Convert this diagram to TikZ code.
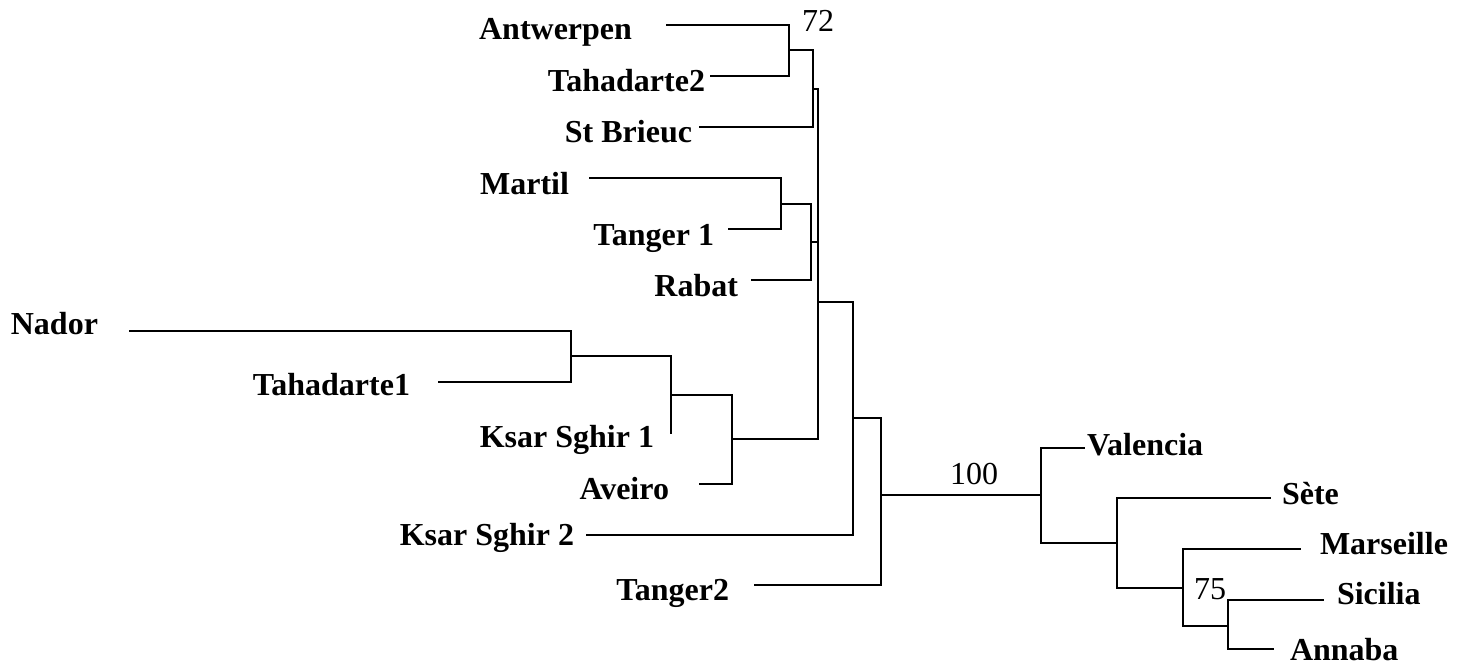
\documentclass[tikz,border=0pt]{standalone}
\usepackage{fontspec}
\setmainfont{Liberation Serif}
\begin{document}
\begin{tikzpicture}[x=0.5pt,y=-0.5pt,
  branch/.style={line width=1.15pt,line cap=rect},
  leafl/.style={anchor=base east,inner sep=0pt,outer sep=0pt,font=\fontsize{16}{19}\selectfont\bfseries},
  leafr/.style={anchor=base west,inner sep=0pt,outer sep=0pt,font=\fontsize{16}{19}\selectfont\bfseries},
  boot/.style={anchor=base west,inner sep=0pt,outer sep=0pt,font=\fontsize{16}{19}\selectfont}]
\useasboundingbox (0,0) rectangle (1467,667);
% left-side labels
\node[leafl] (antw) at (632,40) {Antwerpen};
\node[leafl] (taha2) at (705,92) {Tahadarte2};
\node[leafl] (stb) at (692,143) {St Brieuc};
\node[leafl] (mart) at (569,195) {Martil};
\node[leafl] (tang1) at (714,246) {Tanger 1};
\node[leafl] (rab) at (738,297) {Rabat};
\node[leafl] (nad) at (98,335) {Nador};
\node[leafl] (taha1) at (410,396) {Tahadarte1};
\node[leafl] (ks1) at (654,448) {Ksar Sghir 1};
\node[leafl] (ave) at (669,500) {Aveiro};
\node[leafl] (ks2) at (574,546) {Ksar Sghir 2};
\node[leafl] (tang2) at (729,601) {Tanger2};
% right-side labels
\node[leafr] (val) at (1087,456) {Valencia};
\node[leafr] (set) at (1282,505) {Sète};
\node[leafr] (mar) at (1320,555) {Marseille};
\node[leafr] (sic) at (1337,605) {Sicilia};
\node[leafr] (ann) at (1290,661) {Annaba};
% bootstrap values
\node[boot] (b72) at (802,32) {72};
\node[boot] (b100) at (950,485) {100};
\node[boot] (b75) at (1194,600) {75};
% leaf branch ends
\coordinate (antw-e) at (667,25);
\coordinate (taha2-e) at (711,76);
\coordinate (stb-e) at (700,127);
\coordinate (mart-e) at (590,178);
\coordinate (tang1-e) at (729,229);
\coordinate (rab-e) at (752,280);
\coordinate (nad-e) at (130,331);
\coordinate (taha1-e) at (439,382);
\coordinate (ks1-e) at (671,433);
\coordinate (ave-e) at (700,484);
\coordinate (ks2-e) at (587,535);
\coordinate (tang2-e) at (755,585);
\coordinate (val-e) at (1084,448);
\coordinate (set-e) at (1270,498);
\coordinate (mar-e) at (1300,549);
\coordinate (sic-e) at (1323,600);
\coordinate (ann-e) at (1273,649);
% internal nodes
\coordinate (A1) at (789,50);
\coordinate (A2) at (813,89);
\coordinate (C1) at (781,204);
\coordinate (C2) at (811,242);
\coordinate (N1) at (571,356);
\coordinate (N2) at (671,395);
\coordinate (N3) at (732,439);
\coordinate (B) at (818,302);
\coordinate (K) at (853,418);
\coordinate (R) at (881,495);
\coordinate (V) at (1041,495);
\coordinate (S1) at (1117,543);
\coordinate (M1) at (1183,588);
\coordinate (SA) at (1228,626);
% branches
\draw[branch] (antw-e) -| (A1);
\draw[branch] (taha2-e) -| (A1);
\draw[branch] (A1) -| (A2);
\draw[branch] (stb-e) -| (A2);
\draw[branch] (mart-e) -| (C1);
\draw[branch] (tang1-e) -| (C1);
\draw[branch] (C1) -| (C2);
\draw[branch] (rab-e) -| (C2);
\draw[branch] (nad-e) -| (N1);
\draw[branch] (taha1-e) -| (N1);
\draw[branch] (N1) -| (N2);
\draw[branch] (ks1-e) -| (N2);
\draw[branch] (N2) -| (N3);
\draw[branch] (ave-e) -| (N3);
\draw[branch] (A2) -| (B);
\draw[branch] (C2) -| (B);
\draw[branch] (N3) -| (B);
\draw[branch] (B) -| (K);
\draw[branch] (ks2-e) -| (K);
\draw[branch] (K) -| (R);
\draw[branch] (tang2-e) -| (R);
\draw[branch] (V) -| (R);
\draw[branch] (val-e) -| (V);
\draw[branch] (S1) -| (V);
\draw[branch] (set-e) -| (S1);
\draw[branch] (M1) -| (S1);
\draw[branch] (mar-e) -| (M1);
\draw[branch] (SA) -| (M1);
\draw[branch] (sic-e) -| (SA);
\draw[branch] (ann-e) -| (SA);
\end{tikzpicture}
\end{document}
